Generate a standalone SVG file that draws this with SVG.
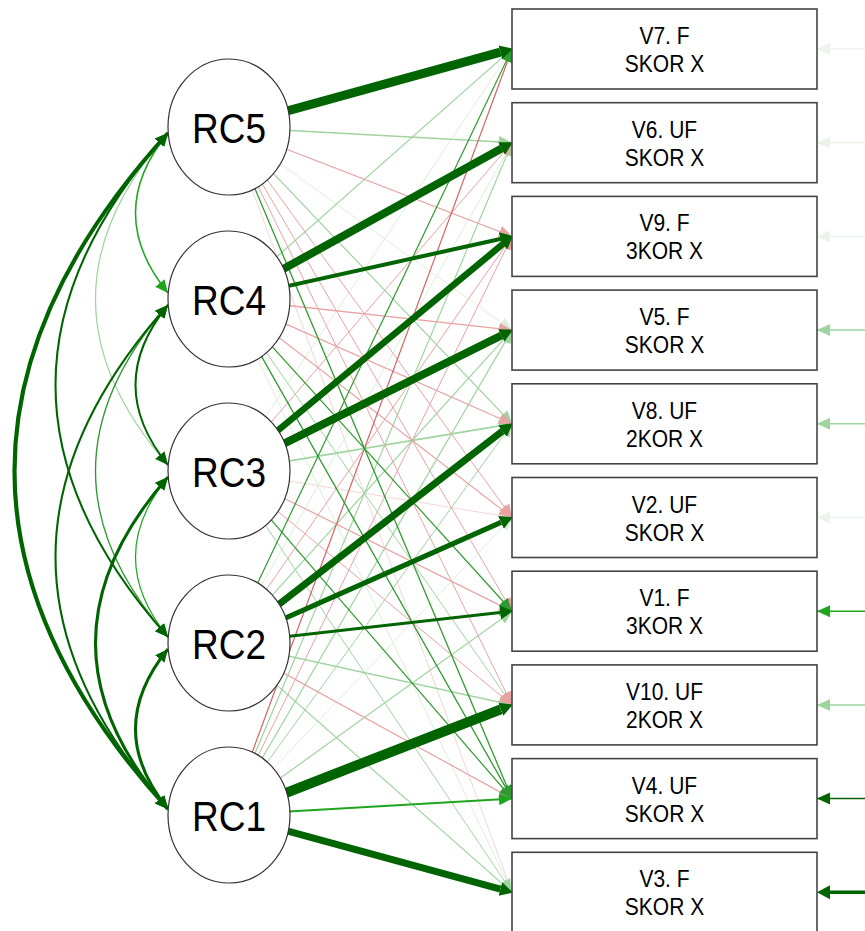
<svg xmlns="http://www.w3.org/2000/svg" width="865" height="931" viewBox="0 0 865 931">
<style>
.e{fill:none;stroke-linecap:butt}
.fg{stroke:#dcefdc}.lg{stroke:#9fd49f}.mg{stroke:#2f9a2f}.bg{stroke:#1ea51e}.dg{stroke:#006400}
.xg{stroke:#eaf4ea}.rf{stroke:#f3d6d6}.rl{stroke:#e8a3a3}.rm{stroke:#d46464}
.node circle,.node ellipse{fill:#fff;stroke:#333;stroke-width:1.2}
.box rect{fill:#fff;stroke:#444;stroke-width:1.6}
.lab{font-family:"Liberation Sans",Arial,sans-serif;fill:#000;text-anchor:middle}
</style>
<defs>
<marker id="m-fg" viewBox="0 -7 14 14" refX="13" refY="0" markerWidth="14" markerHeight="14" markerUnits="userSpaceOnUse" orient="auto-start-reverse"><path d="M0,-6 L13,0 L0,6 z" fill="#dcefdc"/></marker>
<marker id="m-xg" viewBox="0 -7 14 14" refX="13" refY="0" markerWidth="14" markerHeight="14" markerUnits="userSpaceOnUse" orient="auto-start-reverse"><path d="M0,-6 L13,0 L0,6 z" fill="#eaf4ea"/></marker>
<marker id="m-lg" viewBox="0 -7 14 14" refX="13" refY="0" markerWidth="14" markerHeight="14" markerUnits="userSpaceOnUse" orient="auto-start-reverse"><path d="M0,-6 L13,0 L0,6 z" fill="#9fd49f"/></marker>
<marker id="m-mg" viewBox="0 -7 14 14" refX="13" refY="0" markerWidth="14" markerHeight="14" markerUnits="userSpaceOnUse" orient="auto-start-reverse"><path d="M0,-6 L13,0 L0,6 z" fill="#2f9a2f"/></marker>
<marker id="m-bg" viewBox="0 -7 14 14" refX="13" refY="0" markerWidth="14" markerHeight="14" markerUnits="userSpaceOnUse" orient="auto-start-reverse"><path d="M0,-6 L13,0 L0,6 z" fill="#1ea51e"/></marker>
<marker id="m-dg" viewBox="0 -7 14 14" refX="13" refY="0" markerWidth="14" markerHeight="14" markerUnits="userSpaceOnUse" orient="auto-start-reverse"><path d="M0,-6 L13,0 L0,6 z" fill="#006400"/></marker>
<marker id="m-rf" viewBox="0 -7 14 14" refX="13" refY="0" markerWidth="14" markerHeight="14" markerUnits="userSpaceOnUse" orient="auto-start-reverse"><path d="M0,-6 L13,0 L0,6 z" fill="#f3d6d6"/></marker>
<marker id="m-rl" viewBox="0 -7 14 14" refX="13" refY="0" markerWidth="14" markerHeight="14" markerUnits="userSpaceOnUse" orient="auto-start-reverse"><path d="M0,-6 L13,0 L0,6 z" fill="#e8a3a3"/></marker>
<marker id="m-rm" viewBox="0 -7 14 14" refX="13" refY="0" markerWidth="14" markerHeight="14" markerUnits="userSpaceOnUse" orient="auto-start-reverse"><path d="M0,-6 L13,0 L0,6 z" fill="#d46464"/></marker>
<marker id="t-dg" viewBox="0 -8 14 16" refX="0" refY="0" markerWidth="14" markerHeight="16" markerUnits="userSpaceOnUse" orient="auto"><path d="M0,-7 L13,0 L0,7 z" fill="#006400"/></marker>
</defs>

<g id="connectors">
<!-- correlations between factors (bidirectional curves) -->
<path class="e lg" stroke-width="1.2" d="M168,133 Q23,299 168,465" marker-start="url(#m-lg)" marker-end="url(#m-lg)"/>
<path class="e bg" stroke-width="1.2" d="M168,477 Q103,557 168,637" marker-start="url(#m-bg)" marker-end="url(#m-bg)"/>
<path class="e mg" stroke-width="1.3" d="M168,305 Q23,471 168,637" marker-start="url(#m-mg)" marker-end="url(#m-mg)"/>
<path class="e bg" stroke-width="1.5" d="M168,133 Q103,213 168,293" marker-start="url(#m-bg)" marker-end="url(#m-bg)"/>
<path class="e dg" stroke-width="2" d="M168,305 Q103,385 168,465" marker-start="url(#m-dg)" marker-end="url(#m-dg)"/>
<path class="e dg" stroke-width="2" d="M168,133 Q-57,385 168,637" marker-start="url(#m-dg)" marker-end="url(#m-dg)"/>
<path class="e dg" stroke-width="2" d="M168,305 Q-57,557 168,809" marker-start="url(#m-dg)" marker-end="url(#m-dg)"/>
<path class="e dg" stroke-width="3" d="M168,477 Q23,643 168,809" marker-start="url(#m-dg)" marker-end="url(#m-dg)"/>
<path class="e dg" stroke-width="3" d="M168,649 Q103,729 168,809" marker-start="url(#m-dg)" marker-end="url(#m-dg)"/>
<path class="e dg" stroke-width="4" d="M168,133 Q-139,471 168,809" marker-start="url(#m-dg)" marker-end="url(#m-dg)"/>

<!-- faint loadings -->
<line class="e fg" stroke-width="1" x1="229" y1="127" x2="512" y2="330.1" marker-end="url(#m-fg)"/>
<line class="e rf" stroke-width="1" x1="229" y1="127" x2="512" y2="892.3" marker-end="url(#m-rf)"/>
<line class="e fg" stroke-width="1" x1="229" y1="299" x2="512" y2="892.3" marker-end="url(#m-fg)"/>
<line class="e fg" stroke-width="1" x1="229" y1="471" x2="512" y2="49" marker-end="url(#m-fg)"/>
<line class="e rf" stroke-width="1" x1="229" y1="471" x2="512" y2="517.5" marker-end="url(#m-rf)"/>
<line class="e fg" stroke-width="1" x1="229" y1="643" x2="512" y2="142.7" marker-end="url(#m-fg)"/>
<line class="e fg" stroke-width="1" x1="229" y1="815" x2="512" y2="517.5" marker-end="url(#m-fg)"/>

<!-- light loadings -->
<line class="e lg" stroke-width="1.5" x1="229" y1="127" x2="512" y2="142.7" marker-end="url(#m-lg)"/>
<line class="e lg" stroke-width="1.2" x1="229" y1="127" x2="512" y2="423.8" marker-end="url(#m-lg)"/>
<line class="e lg" stroke-width="1.2" x1="229" y1="299" x2="512" y2="49" marker-end="url(#m-lg)"/>
<line class="e lg" stroke-width="1" x1="229" y1="299" x2="512" y2="704.9" marker-end="url(#m-lg)"/>
<line class="e lg" stroke-width="1.6" x1="229" y1="471" x2="512" y2="423.8" marker-end="url(#m-lg)"/>
<line class="e lg" stroke-width="1" x1="229" y1="471" x2="512" y2="892.3" marker-end="url(#m-lg)"/>
<line class="e lg" stroke-width="1.2" x1="229" y1="643" x2="512" y2="330.1" marker-end="url(#m-lg)"/>
<line class="e lg" stroke-width="1.3" x1="229" y1="643" x2="512" y2="704.9" marker-end="url(#m-lg)"/>
<line class="e lg" stroke-width="1.2" x1="229" y1="643" x2="512" y2="892.3" marker-end="url(#m-lg)"/>
<line class="e lg" stroke-width="1.2" x1="229" y1="815" x2="512" y2="142.7" marker-end="url(#m-lg)"/>
<line class="e lg" stroke-width="1.2" x1="229" y1="815" x2="512" y2="330.1" marker-end="url(#m-lg)"/>
<line class="e lg" stroke-width="1" x1="229" y1="815" x2="512" y2="423.8" marker-end="url(#m-lg)"/>
<line class="e lg" stroke-width="1.2" x1="229" y1="815" x2="512" y2="611.2" marker-end="url(#m-lg)"/>

<!-- negative loadings -->
<line class="e rl" stroke-width="1.3" x1="229" y1="127" x2="512" y2="236.4" marker-end="url(#m-rl)"/>
<line class="e rl" stroke-width="1" x1="229" y1="127" x2="512" y2="517.5" marker-end="url(#m-rl)"/>
<line class="e rl" stroke-width="1" x1="229" y1="127" x2="512" y2="611.2" marker-end="url(#m-rl)"/>
<line class="e rl" stroke-width="1" x1="229" y1="127" x2="512" y2="704.9" marker-end="url(#m-rl)"/>
<line class="e rl" stroke-width="1.3" x1="229" y1="299" x2="512" y2="330.1" marker-end="url(#m-rl)"/>
<line class="e rl" stroke-width="1.2" x1="229" y1="299" x2="512" y2="423.8" marker-end="url(#m-rl)"/>
<line class="e rl" stroke-width="1.2" x1="229" y1="299" x2="512" y2="517.5" marker-end="url(#m-rl)"/>
<line class="e rl" stroke-width="1" x1="229" y1="471" x2="512" y2="142.7" marker-end="url(#m-rl)"/>
<line class="e rl" stroke-width="1.2" x1="229" y1="471" x2="512" y2="611.2" marker-end="url(#m-rl)"/>
<line class="e rl" stroke-width="1" x1="229" y1="471" x2="512" y2="704.9" marker-end="url(#m-rl)"/>
<line class="e rl" stroke-width="1" x1="229" y1="643" x2="512" y2="236.4" marker-end="url(#m-rl)"/>
<line class="e rl" stroke-width="1.2" x1="229" y1="643" x2="512" y2="798.6" marker-end="url(#m-rl)"/>
<line class="e rl" stroke-width="1" x1="229" y1="815" x2="512" y2="236.4" marker-end="url(#m-rl)"/>
<line class="e rm" stroke-width="1.2" x1="229" y1="815" x2="512" y2="49" marker-end="url(#m-rm)"/>

<!-- medium loadings -->
<line class="e mg" stroke-width="1.3" x1="229" y1="127" x2="512" y2="798.6" marker-end="url(#m-mg)"/>
<line class="e mg" stroke-width="1.2" x1="229" y1="299" x2="512" y2="611.2" marker-end="url(#m-mg)"/>
<line class="e mg" stroke-width="1.3" x1="229" y1="299" x2="512" y2="798.6" marker-end="url(#m-mg)"/>
<line class="e mg" stroke-width="1.2" x1="229" y1="471" x2="512" y2="798.6" marker-end="url(#m-mg)"/>
<line class="e mg" stroke-width="1.2" x1="229" y1="643" x2="512" y2="49" marker-end="url(#m-mg)"/>
<line class="e bg" stroke-width="2" x1="229" y1="815" x2="512" y2="798.6" marker-end="url(#m-bg)"/>

<!-- strong loadings -->
<line class="e dg" stroke-width="9" x1="229" y1="127" x2="500.4" y2="52.2" marker-end="url(#t-dg)"/>
<line class="e dg" stroke-width="8" x1="229" y1="299" x2="501.5" y2="148.5" marker-end="url(#t-dg)"/>
<line class="e dg" stroke-width="4" x1="229" y1="299" x2="500.3" y2="239" marker-end="url(#t-dg)"/>
<line class="e dg" stroke-width="6.5" x1="229" y1="471" x2="502.8" y2="244.1" marker-end="url(#t-dg)"/>
<line class="e dg" stroke-width="8" x1="229" y1="471" x2="501.3" y2="335.5" marker-end="url(#t-dg)"/>
<line class="e dg" stroke-width="7" x1="229" y1="643" x2="502.5" y2="431.1" marker-end="url(#t-dg)"/>
<line class="e dg" stroke-width="5" x1="229" y1="643" x2="501" y2="522.4" marker-end="url(#t-dg)"/>
<line class="e dg" stroke-width="3" x1="229" y1="643" x2="500.1" y2="612.5" marker-end="url(#t-dg)"/>
<line class="e dg" stroke-width="10" x1="229" y1="815" x2="500.8" y2="709.3" marker-end="url(#t-dg)"/>
<line class="e dg" stroke-width="7" x1="229" y1="815" x2="500.4" y2="889.1" marker-end="url(#t-dg)"/>

<!-- residual arrows -->
<line class="e xg" stroke-width="1.5" x1="865" y1="49" x2="817" y2="49" marker-end="url(#m-xg)"/>
<line class="e xg" stroke-width="1.5" x1="865" y1="142.7" x2="817" y2="142.7" marker-end="url(#m-xg)"/>
<line class="e xg" stroke-width="1.5" x1="865" y1="236.4" x2="817" y2="236.4" marker-end="url(#m-xg)"/>
<line class="e lg" stroke-width="1.5" x1="865" y1="330.1" x2="817" y2="330.1" marker-end="url(#m-lg)"/>
<line class="e lg" stroke-width="1.5" x1="865" y1="423.8" x2="817" y2="423.8" marker-end="url(#m-lg)"/>
<line class="e xg" stroke-width="1.5" x1="865" y1="517.5" x2="817" y2="517.5" marker-end="url(#m-xg)"/>
<line class="e bg" stroke-width="1.5" x1="865" y1="611.2" x2="817" y2="611.2" marker-end="url(#m-bg)"/>
<line class="e lg" stroke-width="1.5" x1="865" y1="704.9" x2="817" y2="704.9" marker-end="url(#m-lg)"/>
<line class="e dg" stroke-width="1.5" x1="865" y1="798.6" x2="817" y2="798.6" marker-end="url(#m-dg)"/>
<line class="e dg" stroke-width="3.5" x1="865" y1="892.3" x2="830" y2="892.3" marker-end="url(#t-dg)"/>
</g>

<g id="RC5" class="node"><ellipse cx="229" cy="127" rx="61" ry="68"/><g transform="translate(229,143) scale(1,1.13)"><text class="lab" x="0" y="0" font-size="37">RC5</text></g></g>
<g id="RC4" class="node"><ellipse cx="229" cy="299" rx="61" ry="68"/><g transform="translate(229,315) scale(1,1.13)"><text class="lab" x="0" y="0" font-size="37">RC4</text></g></g>
<g id="RC3" class="node"><ellipse cx="229" cy="471" rx="61" ry="68"/><g transform="translate(229,487) scale(1,1.13)"><text class="lab" x="0" y="0" font-size="37">RC3</text></g></g>
<g id="RC2" class="node"><ellipse cx="229" cy="643" rx="61" ry="68"/><g transform="translate(229,659) scale(1,1.13)"><text class="lab" x="0" y="0" font-size="37">RC2</text></g></g>
<g id="RC1" class="node"><ellipse cx="229" cy="815" rx="61" ry="68"/><g transform="translate(229,831) scale(1,1.13)"><text class="lab" x="0" y="0" font-size="37">RC1</text></g></g>

<g id="V7" class="box"><rect x="512" y="9" width="305" height="80"/><g transform="translate(664.5,44) scale(1,1.12)"><text class="lab" font-size="21" x="0" y="0">V7. F</text></g><g transform="translate(664.5,72) scale(1,1.12)"><text class="lab" font-size="21" x="0" y="0">SKOR X</text></g></g>
<g id="V6" class="box"><rect x="512" y="102.7" width="305" height="80"/><g transform="translate(664.5,137.7) scale(1,1.12)"><text class="lab" font-size="21" x="0" y="0">V6. UF</text></g><g transform="translate(664.5,165.7) scale(1,1.12)"><text class="lab" font-size="21" x="0" y="0">SKOR X</text></g></g>
<g id="V9" class="box"><rect x="512" y="196.4" width="305" height="80"/><g transform="translate(664.5,231.4) scale(1,1.12)"><text class="lab" font-size="21" x="0" y="0">V9. F</text></g><g transform="translate(664.5,259.4) scale(1,1.12)"><text class="lab" font-size="21" x="0" y="0">3KOR X</text></g></g>
<g id="V5" class="box"><rect x="512" y="290.1" width="305" height="80"/><g transform="translate(664.5,325.1) scale(1,1.12)"><text class="lab" font-size="21" x="0" y="0">V5. F</text></g><g transform="translate(664.5,353.1) scale(1,1.12)"><text class="lab" font-size="21" x="0" y="0">SKOR X</text></g></g>
<g id="V8" class="box"><rect x="512" y="383.8" width="305" height="80"/><g transform="translate(664.5,418.8) scale(1,1.12)"><text class="lab" font-size="21" x="0" y="0">V8. UF</text></g><g transform="translate(664.5,446.8) scale(1,1.12)"><text class="lab" font-size="21" x="0" y="0">2KOR X</text></g></g>
<g id="V2" class="box"><rect x="512" y="477.5" width="305" height="80"/><g transform="translate(664.5,512.5) scale(1,1.12)"><text class="lab" font-size="21" x="0" y="0">V2. UF</text></g><g transform="translate(664.5,540.5) scale(1,1.12)"><text class="lab" font-size="21" x="0" y="0">SKOR X</text></g></g>
<g id="V1" class="box"><rect x="512" y="571.2" width="305" height="80"/><g transform="translate(664.5,606.2) scale(1,1.12)"><text class="lab" font-size="21" x="0" y="0">V1. F</text></g><g transform="translate(664.5,634.2) scale(1,1.12)"><text class="lab" font-size="21" x="0" y="0">3KOR X</text></g></g>
<g id="V10" class="box"><rect x="512" y="664.9" width="305" height="80"/><g transform="translate(664.5,699.9) scale(1,1.12)"><text class="lab" font-size="21" x="0" y="0">V10. UF</text></g><g transform="translate(664.5,727.9) scale(1,1.12)"><text class="lab" font-size="21" x="0" y="0">2KOR X</text></g></g>
<g id="V4" class="box"><rect x="512" y="758.6" width="305" height="80"/><g transform="translate(664.5,793.6) scale(1,1.12)"><text class="lab" font-size="21" x="0" y="0">V4. UF</text></g><g transform="translate(664.5,821.6) scale(1,1.12)"><text class="lab" font-size="21" x="0" y="0">SKOR X</text></g></g>
<g id="V3" class="box"><rect x="512" y="852.3" width="305" height="80"/><g transform="translate(664.5,887.3) scale(1,1.12)"><text class="lab" font-size="21" x="0" y="0">V3. F</text></g><g transform="translate(664.5,915.3) scale(1,1.12)"><text class="lab" font-size="21" x="0" y="0">SKOR X</text></g></g>
</svg>
